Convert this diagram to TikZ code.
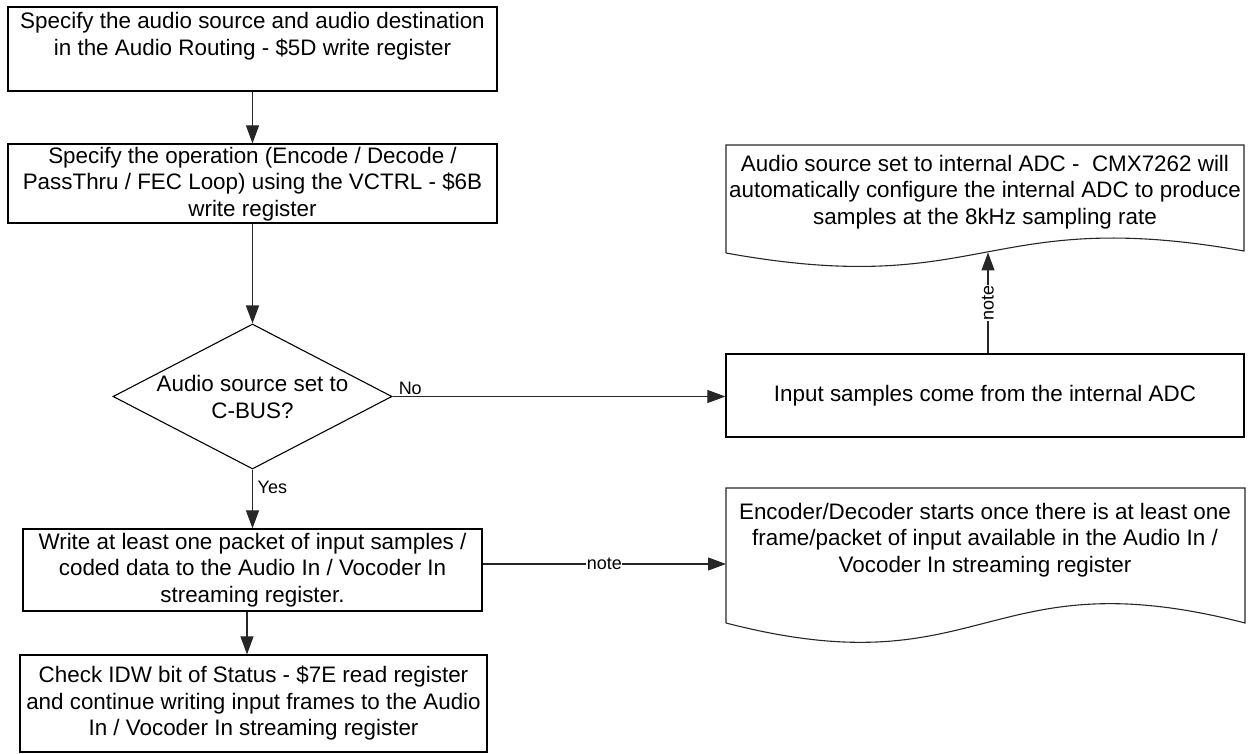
\documentclass[tikz,border=0pt]{standalone}
\usepackage{fontspec}
\setmainfont{Liberation Sans}
\usetikzlibrary{arrows.meta,shapes.geometric}
\begin{document}
\begin{tikzpicture}[x=1pt,y=-1pt,
  boxsh/.style={draw=black, line width=1.2pt, rectangle, inner sep=0pt},
  txt/.style={align=center, font=\fontsize{22.4}{26.5}\selectfont, inner sep=0pt},
  lbl/.style={font=\fontsize{18}{20}\selectfont, inner sep=1pt},
  conn/.style={draw=black!85, line width=1.1pt, -{Triangle[length=18pt,width=13pt]}},
  docsh/.style={draw=black!85, line width=1.1pt},
]
\useasboundingbox (0,0) rectangle (1254,754);

% boxes
\node[boxsh, minimum width=489pt, minimum height=84pt] (b1) at (252.5,49) {};
\node[txt] (b1t) at (252.5,36) {Specify the audio source and audio destination\\in the Audio Routing - \$5D write register};

\node[boxsh, minimum width=489pt, minimum height=79pt] (b2) at (252.5,183.5) {};
\node[txt] (b2t) at (252.5,184) {Specify the operation (Encode / Decode /\\PassThru / FEC Loop) using the VCTRL - \$6B\\write register};

\node[draw=black, line width=1.1pt, diamond, inner sep=0pt, aspect=1.92, minimum width=279pt, minimum height=145pt] (dia) at (252.5,396.5) {};
\node[txt] (diat) at (252.5,397) {Audio source set to\\C-BUS?};

\node[boxsh, minimum width=518pt, minimum height=83pt] (b3) at (985,395.5) {};
\node[txt] (b3t) at (985,396) {Input samples come from the internal ADC};

\node[boxsh, minimum width=459pt, minimum height=82pt] (b4) at (252.5,570) {};
\node[txt] (b4t) at (252.5,570) {Write at least one packet of input samples /\\coded data to the Audio In / Vocoder In\\streaming register.};

\node[boxsh, minimum width=467pt, minimum height=97pt] (b5) at (253.5,703.5) {};
\node[txt] (b5t) at (253.5,703.5) {Check IDW bit of Status - \$7E read register\\and continue writing input frames to the Audio\\In / Vocoder In streaming register};

% document shapes
\draw[docsh] (726,253) -- (726,145) -- (1244,145) -- (1244,251)
  .. controls (985,205) and (985,300) .. (726,253);
\node[txt] (d1) at (985,192) {Audio source set to internal ADC - \ CMX7262 will\\automatically configure the internal ADC to produce\\samples at the 8kHz sampling rate};
\coordinate (d1b) at (988,252.5);

\draw[docsh] (726,623) -- (726,488) -- (1245,488) -- (1245,623)
  .. controls (985,556) and (985,690) .. (726,623);
\node[txt] (d2) at (985,540) {Encoder/Decoder starts once there is at least one\\frame/packet of input available in the Audio In /\\Vocoder In streaming register};
\coordinate (d2w) at (726,564);

% connectors
\draw[conn] (b1) -- (b2);
\draw[conn, line width=1.7pt] (b2) -- (dia);
\draw[conn] (dia.east) -- (dia.east -| b3.west);
\node[lbl, anchor=south west] (no) at ([xshift=5pt,yshift=1pt]dia.east) {No};
\draw[conn] (dia.south) -- (b4.north);
\node[lbl, anchor=west] (yes) at ([xshift=4pt,yshift=-18pt]dia.south) {Yes};

\coordinate (x5) at (247,0);
\draw[conn] (b4.south -| x5) -- (b5.north -| x5);

\draw[conn] (b4.east |- d2w) -- node[lbl, fill=white, inner sep=0.5pt] (n2) {note} (d2w);
\draw[conn] (b3.north -| d1b) -- node[lbl, fill=white, rotate=90, inner sep=0.5pt] (n1) {note} (d1b);

\end{tikzpicture}
\end{document}
